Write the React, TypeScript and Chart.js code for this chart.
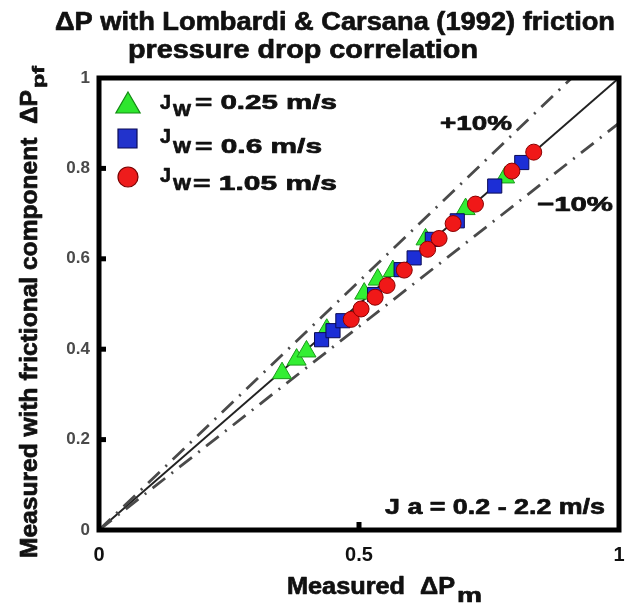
import React, { useEffect, useRef } from "react";
import { Chart, registerables } from "chart.js";

Chart.register(...registerables);

const FONT = '"Liberation Sans", Arial, Helvetica, sans-serif';

// ---- Data ----
const seriesNames = ["Jw = 0.25 m/s", "Jw = 0.6 m/s", "Jw = 1.05 m/s"];

const jw025X = [0.352, 0.38, 0.399, 0.438, 0.51, 0.536, 0.565, 0.628, 0.705, 0.781];
const jw025Y = [0.347, 0.377, 0.395, 0.443, 0.523, 0.554, 0.573, 0.643, 0.71, 0.78];

const jw06X = [0.428, 0.45, 0.469, 0.53, 0.581, 0.606, 0.641, 0.689, 0.761, 0.813];
const jw06Y = [0.421, 0.441, 0.463, 0.521, 0.576, 0.602, 0.643, 0.684, 0.761, 0.813];

const jw105X = [0.485, 0.504, 0.531, 0.554, 0.587, 0.632, 0.654, 0.681, 0.724, 0.794, 0.836];
const jw105Y = [0.466, 0.489, 0.515, 0.541, 0.575, 0.621, 0.645, 0.678, 0.721, 0.794, 0.836];

// reference lines (end points)
const perfectLineX = [0, 1];
const perfectLineY = [0, 1];
const plus10X = [0, 0.909];
const plus10Y = [0, 1];
const minus10X = [0, 1];
const minus10Y = [0, 0.9];

const xTickValues = [0, 0.5, 1];
const xTickLabels = ["0", "0.5", "1"];
const yTickValues = [0, 0.2, 0.4, 0.6, 0.8, 1];
const yTickLabels = ["0", "0.2", "0.4", "0.6", "0.8", "1"];

const zip = (xs: number[], ys: number[]) => xs.map((x, i) => ({ x, y: ys[i] }));

// ---- helpers ----
function fitText(
  ctx: CanvasRenderingContext2D,
  text: string,
  left: number,
  baseline: number,
  size: number,
  targetW: number,
  color = "#111"
) {
  ctx.save();
  ctx.font = `bold ${size}px ${FONT}`;
  const w = ctx.measureText(text).width || 1;
  const sx = targetW / w;
  ctx.translate(left, baseline);
  ctx.scale(sx, 1);
  ctx.textAlign = "left";
  ctx.textBaseline = "alphabetic";
  ctx.fillStyle = color;
  ctx.strokeStyle = color;
  ctx.lineWidth = 0.7;
  ctx.lineJoin = "round";
  ctx.fillText(text, 0, 0);
  ctx.strokeText(text, 0, 0);
  ctx.restore();
}

function drawTriangle(ctx: CanvasRenderingContext2D, x: number, y: number, r: number) {
  ctx.beginPath();
  for (let k = 0; k < 3; k++) {
    const a = (k * 2 * Math.PI) / 3;
    const px = x + Math.sin(a) * r;
    const py = y - Math.cos(a) * r;
    if (k === 0) ctx.moveTo(px, py);
    else ctx.lineTo(px, py);
  }
  ctx.closePath();
}

const decorPlugin = {
  id: "decor",
  beforeDraw(chart: any) {
    const ctx = chart.ctx;
    ctx.save();
    ctx.fillStyle = "#fff";
    ctx.fillRect(0, 0, chart.width, chart.height);
    ctx.restore();
  },
  afterDraw(chart: any) {
    const ctx: CanvasRenderingContext2D = chart.ctx;
    const a = chart.chartArea;
    const xs = chart.scales.x;
    const ys = chart.scales.y;

    // frame
    ctx.save();
    ctx.strokeStyle = "#000";
    ctx.lineWidth = 5;
    ctx.strokeRect(a.left, a.top, a.right - a.left, a.bottom - a.top);
    // inward ticks
    ctx.lineWidth = 5;
    ctx.lineCap = "butt";
    yTickValues.forEach((v) => {
      if (v <= 0 || v >= 1) return;
      const py = ys.getPixelForValue(v);
      ctx.beginPath();
      ctx.moveTo(a.left, py);
      ctx.lineTo(a.left + 7, py);
      ctx.stroke();
    });
    xTickValues.forEach((v) => {
      if (v <= 0 || v >= 1) return;
      const px = xs.getPixelForValue(v);
      ctx.beginPath();
      ctx.moveTo(px, a.bottom);
      ctx.lineTo(px, a.bottom - 8);
      ctx.stroke();
    });
    ctx.restore();

    // title
    fitText(ctx, "\u0394P with Lombardi & Carsana (1992) friction", 55, 30, 26, 560);
    fitText(ctx, "pressure drop correlation", 128, 58, 26, 350);

    // x-axis title
    fitText(ctx, "Measured", 287, 594, 24, 118);
    fitText(ctx, "\u0394P", 420, 594, 23, 35);
    fitText(ctx, "m", 457, 602, 21, 25);

    // y-axis title (rotated)
    ctx.save();
    ctx.translate(37, 558);
    ctx.rotate(-Math.PI / 2);
    fitText(ctx, "Measured with frictional component  \u0394P", 0, 0, 23, 468);
    fitText(ctx, "pf", 470, 7, 17, 22);
    ctx.restore();

    // annotations
    fitText(ctx, "+10%", 440, 130, 21, 72);
    fitText(ctx, "\u221210%", 537, 211, 21, 76);
    fitText(ctx, "J a = 0.2 - 2.2 m/s", 385, 514, 22, 220);

    // legend
    ctx.save();
    ctx.lineWidth = 1.2;
    drawTriangle(ctx, 128, 106, 14);
    ctx.fillStyle = "#2ee62e";
    ctx.strokeStyle = "#138a13";
    ctx.fill();
    ctx.stroke();
    ctx.beginPath();
    ctx.rect(118, 129, 19, 19);
    ctx.fillStyle = "#2233cc";
    ctx.strokeStyle = "#0a0a55";
    ctx.fill();
    ctx.stroke();
    ctx.beginPath();
    ctx.arc(128, 177, 10, 0, Math.PI * 2);
    ctx.fillStyle = "#ee1c1c";
    ctx.strokeStyle = "#7a0000";
    ctx.fill();
    ctx.stroke();
    ctx.restore();

    const legendRows = [
      { jBase: 109, wBase: 116, restBase: 109, restLeft: 195, restW: 142, rest: "= 0.25 m/s" },
      { jBase: 143, wBase: 153, restBase: 153, restLeft: 195, restW: 127, rest: "= 0.6 m/s" },
      { jBase: 182, wBase: 190, restBase: 190, restLeft: 193, restW: 144, rest: "= 1.05 m/s" },
    ];
    legendRows.forEach((r) => {
      fitText(ctx, "J", 160, r.jBase, 21, 11);
      fitText(ctx, "W", 173, r.wBase, 17, 18);
      fitText(ctx, r.rest, r.restLeft, r.restBase, 21, r.restW);
    });
  },
};

export default function App() {
  const ref = useRef<HTMLCanvasElement>(null);

  useEffect(() => {
    if (!ref.current) return;
    const refLine = (label: string, xs: number[], ys: number[], dash: number[], color: string, w: number, order: number) => ({
      type: "line" as const,
      label,
      data: zip(xs, ys),
      showLine: true,
      borderColor: color,
      borderWidth: w,
      borderDash: dash,
      pointRadius: 0,
      fill: false,
      order,
    });

    const chart = new Chart(ref.current, {
      type: "scatter",
      data: {
        datasets: [
          refLine("y = x", perfectLineX, perfectLineY, [], "#222", 2, 6),
          refLine("+10%", plus10X, plus10Y, [16, 8, 2, 8], "#4a4a4a", 2.8, 5),
          refLine("-10%", minus10X, minus10Y, [16, 8, 2, 8], "#4a4a4a", 2.8, 4),
          {
            label: seriesNames[0],
            data: zip(jw025X, jw025Y),
            pointStyle: "triangle",
            pointRadius: 11,
            backgroundColor: "#33ee33",
            borderColor: "#1a9a1a",
            borderWidth: 1,
            order: 3,
          },
          {
            label: seriesNames[1],
            data: zip(jw06X, jw06Y),
            pointStyle: "rect",
            pointRadius: 10,
            backgroundColor: "#1c2ed6",
            borderColor: "#0a0a55",
            borderWidth: 1,
            order: 2,
          },
          {
            label: seriesNames[2],
            data: zip(jw105X, jw105Y),
            pointStyle: "circle",
            pointRadius: 8,
            backgroundColor: "#f01818",
            borderColor: "#8a0000",
            borderWidth: 1,
            order: 1,
          },
        ] as any,
      },
      options: {
        responsive: false,
        animation: false,
        events: [],
        layout: { padding: { top: 78, right: 8, left: 0, bottom: 0 } },
        plugins: {
          legend: { display: false },
          title: { display: false },
          tooltip: { enabled: false },
        },
        scales: {
          x: {
            type: "linear",
            min: 0,
            max: 1,
            afterBuildTicks: (s: any) => {
              s.ticks = xTickValues.map((v) => ({ value: v }));
            },
            afterFit: (s: any) => {
              s.height = 77;
              s.paddingLeft = 0;
              s.paddingRight = 0;
            },
            ticks: {
              callback: (_v: any, i: number) => xTickLabels[i],
              font: { family: FONT, size: 20, weight: "bold" },
              color: "#111",
              padding: 13,
              maxRotation: 0,
              autoSkip: false,
            },
            grid: { display: false, drawTicks: false },
            border: { display: false },
          },
          y: {
            type: "linear",
            min: 0,
            max: 1,
            afterBuildTicks: (s: any) => {
              s.ticks = yTickValues.map((v) => ({ value: v }));
            },
            afterFit: (s: any) => {
              s.width = 99;
              s.paddingTop = 0;
              s.paddingBottom = 0;
            },
            ticks: {
              callback: (_v: any, i: number) => yTickLabels[i],
              font: { family: FONT, size: 17, weight: "bold" },
              color: "#4a4a4a",
              padding: 9,
              autoSkip: false,
            },
            grid: { display: false, drawTicks: false },
            border: { display: false },
          },
        },
      } as any,
      plugins: [decorPlugin],
    });
    return () => chart.destroy();
  }, []);

  return (
    <div style={{ position: "fixed", left: 0, top: 0, width: 631, height: 607, background: "#fff" }}>
      <canvas ref={ref} width={631} height={607} style={{ display: "block" }} />
    </div>
  );
}
